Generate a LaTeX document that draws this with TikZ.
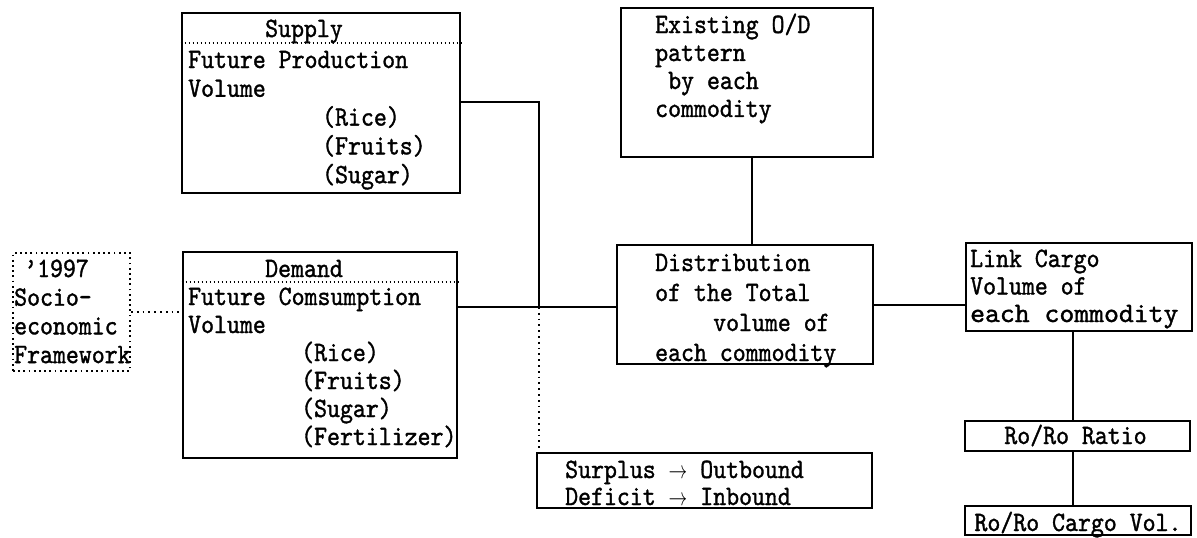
\documentclass[tikz,border=0pt]{standalone}
\usepackage{fontspec}
\newfontfamily\tw{lmmono10-regular}[Extension=.otf, FakeStretch=0.88, FakeBold=1.2]
\newcommand\Lines[2]{\vtop{\baselineskip=#1pt\lineskiplimit=-100pt\lineskip=0pt #2}}
\newcommand\LL[2][0]{\hbox{\hspace*{#1pt}#2}}
\newcommand\ar{\scalebox{0.75}[1]{$\rightarrow$}}
\tikzset{
  box/.style={draw, line width=2.8pt, inner sep=0pt},
  dotbox/.style={draw, line width=2pt, dash pattern=on 1.8pt off 3.4pt, inner sep=0pt},
  conn/.style={line width=1.8pt},
  dotconn/.style={line width=2pt, dash pattern=on 1.8pt off 4pt},
  sepline/.style={line width=1.5pt, dash pattern=on 1.4pt off 2.6pt},
  txt/.style={inner sep=0pt, anchor=base west, font=\tw\fontsize{28}{28}\selectfont},
  ctxt/.style={inner sep=0pt, anchor=base, font=\tw\fontsize{28}{28}\selectfont},
}
\begin{document}
\begin{tikzpicture}[x=1pt,y=-1pt]
\useasboundingbox (0,0) rectangle (1197,538);
% boxes
\node[dotbox, minimum width=117pt, minimum height=118pt] (fw) at (71.5,312) {};
\node[box, minimum width=278pt, minimum height=180pt] (supply) at (321,103) {};
\node[box, minimum width=274pt, minimum height=206pt] (demand) at (320,355) {};
\node[box, minimum width=252pt, minimum height=149pt] (existing) at (747,82.5) {};
\node[box, minimum width=256pt, minimum height=119pt] (dist) at (745,304.5) {};
\node[box, minimum width=335pt, minimum height=55pt] (surplus) at (704.5,480.5) {};
\node[box, minimum width=226pt, minimum height=88pt] (link) at (1079,287) {};
\node[box, minimum width=225pt, minimum height=30pt] (ratio) at (1077.5,436) {};
\node[box, minimum width=226pt, minimum height=29pt] (cargo) at (1078,520.5) {};
% separators
\draw[sepline] (supply.west |- 0,43) -- (supply.east |- 0,43);
\draw[sepline] (demand.west |- 0,282) -- (demand.east |- 0,282);
% texts
\node[txt] (fwT) at (14,277) {\Lines{28.7}{\LL[10]{’1997}\LL{Socio-}\LL{economic}\LL{Framework}}};
\node[txt] (supplyH) at (265,37) {Supply};
\node[txt] (supplyT) at (188,68) {\Lines{28.8}{\LL{Future Production}\LL{Volume}\LL[134]{(Rice)}\LL[134]{(Fruits)}\LL[134]{(Sugar)}}};
\node[txt] (demandH) at (265,277) {Demand};
\node[txt] (demandT) at (188,305) {\Lines{28}{\LL{Future Comsumption}\LL{Volume}\LL[113]{(Rice)}\LL[113]{(Fruits)}\LL[113]{(Sugar)}\LL[113]{(Fertilizer)}}};
\node[txt] (existingT) at (655,33) {\Lines{28}{\LL{Existing O/D}\LL{pattern}\LL[13]{by each}\LL{commodity}}};
\node[txt] (distT) at (655,271) {\Lines{30}{\LL{Distribution}\LL{of the Total}\LL[58]{volume of}\LL{each commodity}}};
\node[txt] (surplusT) at (565,478) {\Lines{27}{\LL{Surplus \ar{} Outbound}\LL{Deficit \ar{} Inbound}}};
\node[txt] (linkT) at (970,267) {\Lines{27.5}{\LL{Link Cargo}\LL{Volume of}\LL{\scalebox{1.15}[1]{each commodity}}}};
\node[ctxt] (ratioT) at (1075.5,444) {Ro/Ro Ratio};
\node[ctxt] (cargoT) at (1078,531) {Ro/Ro Cargo Vol.};
% connectors
\coordinate (j) at (539,307);
\coordinate (ex) at (752,0);
\coordinate (vx) at (1073,0);
\draw[dotconn] (fw.east |- 0,312) -- (demand.west |- 0,312);
\draw[conn] (supply.east |- 0,102) -| (j);
\draw[conn] (demand.east |- j) -- (dist.west |- j);
\draw[dotconn] (j) -- (surplus.north -| j);
\draw[conn] (existing.south -| ex) -- (dist.north -| ex);
\draw[conn] (dist.east |- 0,305) -- (link.west |- 0,305);
\draw[conn] (link.south -| vx) -- (ratio.north -| vx);
\draw[conn] (ratio.south -| vx) -- (cargo.north -| vx);
\end{tikzpicture}
\end{document}
